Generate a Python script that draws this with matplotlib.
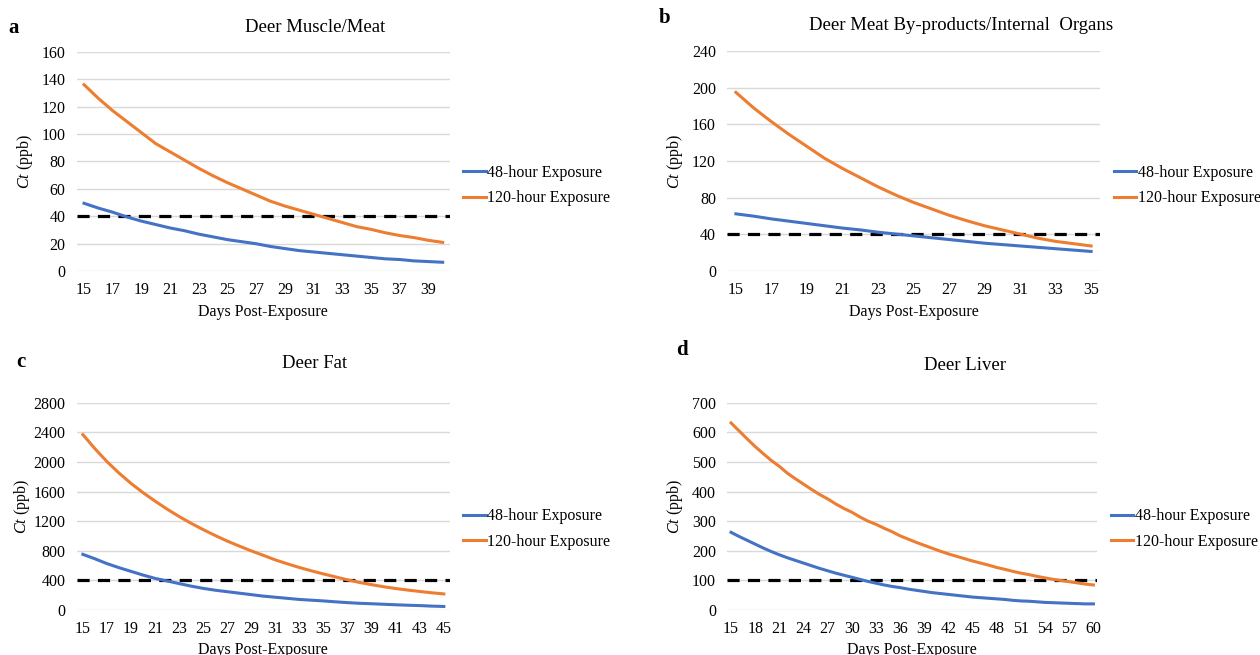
import matplotlib
matplotlib.use('Agg')
import matplotlib.pyplot as plt

plt.rcParams['font.family'] = ['Liberation Serif', 'DejaVu Serif']
plt.rcParams['mathtext.fontset'] = 'custom'
plt.rcParams['mathtext.it'] = 'Liberation Serif:italic'
plt.rcParams['mathtext.rm'] = 'Liberation Serif'

# panel a - muscle/meat
days_a = list(range(15, 41))
a_48 = [49.5, 46, 43, 39.5, 36.5, 34, 31.5, 29.5, 27, 25, 23, 21.5, 20, 18, 16.5, 15,
        14, 13, 12, 11, 10, 9, 8.5, 7.5, 7, 6.5]
a_120 = [136, 126, 117, 109, 101, 93, 87, 81, 75, 69.5, 64.5, 60, 55.5, 51, 47.5, 44.5,
         41.5, 38.5, 35.5, 32.5, 30.5, 28, 26, 24.5, 22.5, 21]

# panel b - by-products / internal organs
days_b = list(range(15, 36))
b_48 = [62.5, 60, 57, 54.5, 52, 49.5, 47, 45, 42.5, 40.5, 38.5, 36.5, 34.5, 32.5, 30.5,
        29, 27.5, 26, 24.5, 23, 21.5]
b_120 = [195, 178, 163, 149, 136, 123, 112, 102, 92, 83, 75, 68, 61, 55, 49.5, 45, 40.5,
         36, 32.5, 30, 27.5]

# panel c - fat
days_c = list(range(15, 46))
c_48 = [750, 690, 625, 570, 520, 470, 425, 390, 355, 320, 290, 265, 245, 225, 205, 185,
        170, 155, 140, 130, 120, 108, 97, 88, 82, 75, 68, 62, 57, 50, 45]
c_120 = [2370, 2180, 2005, 1850, 1710, 1585, 1470, 1362, 1262, 1170, 1085, 1005, 930, 862,
         797, 737, 675, 622, 572, 527, 485, 445, 405, 370, 340, 312, 288, 267, 248, 230, 215]

# panel d - liver
days_d = list(range(15, 61))
d_48 = [262, 248, 235, 222, 209, 197, 186, 176, 167, 158, 149, 140, 132, 124, 117, 110,
        103, 96, 90, 84, 79, 75, 70, 66, 62, 58, 55, 52, 49, 46, 43, 41, 39, 37, 35, 32,
        30, 29, 27, 25, 24, 23, 22, 21, 20, 20]
d_120 = [632, 605, 578, 552, 528, 505, 485, 462, 443, 425, 407, 390, 375, 358, 343, 330,
         314, 300, 289, 276, 264, 250, 239, 228, 218, 208, 198, 189, 181, 173, 165, 158,
         151, 143, 137, 130, 124, 119, 113, 108, 103, 99, 95, 91, 87, 84]

W, H = 1260, 655

# letter, title, data, threshold, y max, y step, x step, axes pos, title xy, letter xy (pixels), ylabel x
panels = [
    ('a', 'Deer Muscle/Meat', days_a, a_48, a_120, 40, 160, 20, 2,
     [0.061, 0.586, 0.296, 0.335], (315, 27), (14, 28), -0.113),
    ('b', 'Deer Meat By-products/Internal  Organs', days_b, b_48, b_120, 40, 240, 40, 2,
     [0.577, 0.586, 0.296, 0.336], (961, 26), (665, 18), -0.113),
    ('c', 'Deer Fat', days_c, c_48, c_120, 400, 2800, 400, 2,
     [0.061, 0.069, 0.296, 0.316], (315, 363), (21, 362), -0.12),
    ('d', 'Deer Liver', days_d, d_48, d_120, 100, 700, 100, 3,
     [0.577, 0.069, 0.294, 0.316], (965, 366), (682, 350), -0.113),
]

fig = plt.figure(figsize=(12.6, 6.55), dpi=100)

for letter, title, days, s48, s120, thr, ymax, ystep, xstep, pos, txy, lxy, ylx in panels:
    ax = fig.add_axes(pos)
    ax.plot(days, s48, color='#4472C4', lw=2.2, label='48-hour Exposure', zorder=3)
    ax.plot(days, s120, color='#ED7D31', lw=2.2, label='120-hour Exposure', zorder=3)
    ax.axhline(thr, color='black', lw=2.3, ls=(0, (3.8, 2.6)), zorder=2)
    ax.set_xlim(days[0] - 0.5, days[-1] + 0.5)
    ax.set_ylim(0, ymax)
    ax.set_yticks(range(0, ymax + 1, ystep))
    ax.set_xticks(days[::xstep])
    ax.grid(axis='y', color='#d9d9d9', lw=1)
    ax.set_axisbelow(True)
    for s in ax.spines.values():
        s.set_visible(False)
    ax.tick_params(length=0, labelsize=11.5, pad=8)
    ax.set_xlabel('Days Post-Exposure', fontsize=11.5, labelpad=4)
    ax.set_ylabel(r'$Ct$ (ppb)', fontsize=11.5)
    ax.yaxis.set_label_coords(ylx, 0.5)
    ax.legend(loc='center left', bbox_to_anchor=(1.015, 0.39), frameon=False, fontsize=11.5,
              handlelength=1.4, handletextpad=0.1, borderpad=0, labelspacing=0.6)
    fig.text(txy[0] / W, 1 - txy[1] / H, title, fontsize=13.5, ha='center', va='center')
    fig.text(lxy[0] / W, 1 - lxy[1] / H, letter, fontsize=15, fontweight='bold',
             ha='center', va='center')

fig.savefig('out.png', dpi=100)
